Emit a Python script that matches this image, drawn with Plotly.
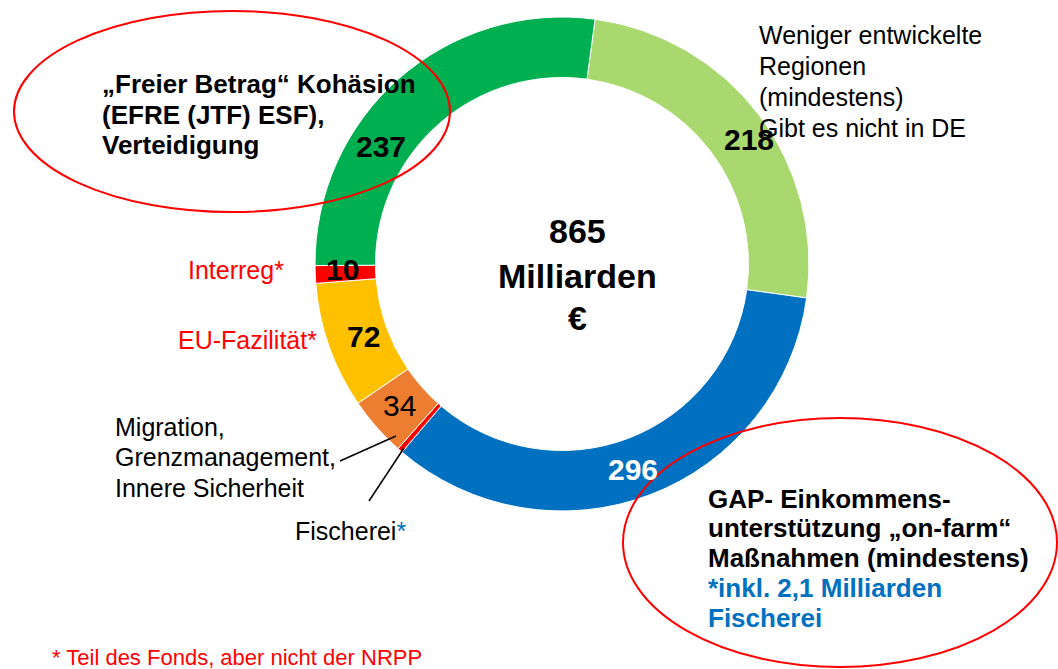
import plotly.graph_objects as go

W, H = 1058, 669

# ---- data (clockwise from top, slightly right of 12 o'clock) ----
categories = ["Weniger entwickelte Regionen", "GAP-Einkommensunterstützung", "Fischerei",
              "Migration, Grenzmanagement, Innere Sicherheit", "EU-Fazilität", "Interreg",
              "Freier Betrag Kohäsion, Verteidigung"]
values = [218, 296, 3, 34, 72, 10, 237]
value_labels = ["218", "296", "", "34", "72", "10", "237"]
colors = ["#A9D86E", "#0070C0", "#FF0000", "#ED7D31", "#FFC000", "#FF0000", "#00B050"]
total_label = ["865", "Milliarden", "€"]

FONT = "Liberation Sans, Arial, sans-serif"


def px(x, y):
    return x / W, 1 - y / H


# pie geometry (pixels)
cx, cy, R = 562, 264, 247

fig = go.Figure()
fig.add_trace(go.Pie(
    values=values,
    labels=categories,
    marker=dict(colors=colors, line=dict(color="white", width=1)),
    hole=0.755,
    sort=False,
    direction="clockwise",
    rotation=7.7,
    textinfo="none",
    hoverinfo="skip",
    showlegend=False,
    domain=dict(x=[(cx - R) / W, (cx + R) / W], y=[1 - (cy + R) / H, 1 - (cy - R) / H]),
))

ann = []


def add_text(text, x, y, size, color="black", bold=False, xanchor="left"):
    xx, yy = px(x, y)
    t = f"<b>{text}</b>" if bold else text
    ann.append(dict(text=t, x=xx, y=yy, xref="paper", yref="paper", xanchor=xanchor,
                    yanchor="middle", showarrow=False,
                    font=dict(family=FONT, size=size, color=color)))


# slice value labels
add_text(value_labels[6], 381, 146, 30, bold=True, xanchor="center")
add_text(value_labels[0], 749, 140, 30, bold=True, xanchor="center")
add_text(value_labels[1], 633, 470, 30, color="white", bold=True, xanchor="center")
add_text(value_labels[5], 342, 269, 30, bold=True, xanchor="center")
add_text(value_labels[4], 363, 336, 30, bold=True, xanchor="center")
add_text(value_labels[3], 399, 405, 30, xanchor="center")

# centre
for t, y in zip(total_label, [231, 276, 318]):
    add_text(t, 577, y, 34, bold=True, xanchor="center")

# Weniger entwickelte Regionen
for t, y in zip(["Weniger entwickelte", "Regionen", "(mindestens)", "Gibt es nicht in DE"],
                [35, 66, 97, 128]):
    add_text(t, 757, y, 25)

# Freier Betrag
for t, y in zip(["„Freier Betrag“ Kohäsion", "(EFRE (JTF) ESF),", "Verteidigung"],
                [84, 115, 145]):
    add_text(t, 100, y, 26, bold=True)

# GAP
for t, y, c in zip(["GAP- Einkommens-", "unterstützung „on-farm“", "Maßnahmen (mindestens)",
                    "*inkl. 2,1 Milliarden", "Fischerei"],
                   [499, 528, 558, 588, 618],
                   ["black", "black", "black", "#0070C0", "#0070C0"]):
    add_text(t, 706, y, 26, color=c, bold=True)

# Migration
for t, y in zip(["Migration,", "Grenzmanagement,", "Innere Sicherheit"], [427, 457, 488]):
    add_text(t, 113, y, 25)

add_text('Fischerei<span style="color:#0070C0">*</span>', 293, 531, 25)
add_text("Interreg*", 286, 270, 25, color="#FF0000", xanchor="right")
add_text("EU-Fazilität*", 319, 340, 25, color="#FF0000", xanchor="right")
add_text("* Teil des Fonds, aber nicht der NRPP", 50, 657, 22, color="#FF0000")

shapes = []
# ellipses
for (x0, y0, x1, y1) in [(14, 11, 450, 212), (623, 418, 1057, 667)]:
    a0, b0 = px(x0, y1)
    a1, b1 = px(x1, y0)
    shapes.append(dict(type="circle", xref="paper", yref="paper", x0=a0, y0=b0, x1=a1, y1=b1,
                       line=dict(color="#FF0000", width=2)))
# leader lines
for (x0, y0, x1, y1) in [(340, 461, 396, 436), (369, 501, 404, 448)]:
    a0, b0 = px(x0, y0)
    a1, b1 = px(x1, y1)
    shapes.append(dict(type="line", xref="paper", yref="paper", x0=a0, y0=b0, x1=a1, y1=b1,
                       line=dict(color="black", width=1.5)))

fig.update_layout(
    width=W, height=H,
    margin=dict(l=0, r=0, t=0, b=0),
    paper_bgcolor="white", plot_bgcolor="white",
    annotations=ann, shapes=shapes,
)

fig.write_html("out.html")
